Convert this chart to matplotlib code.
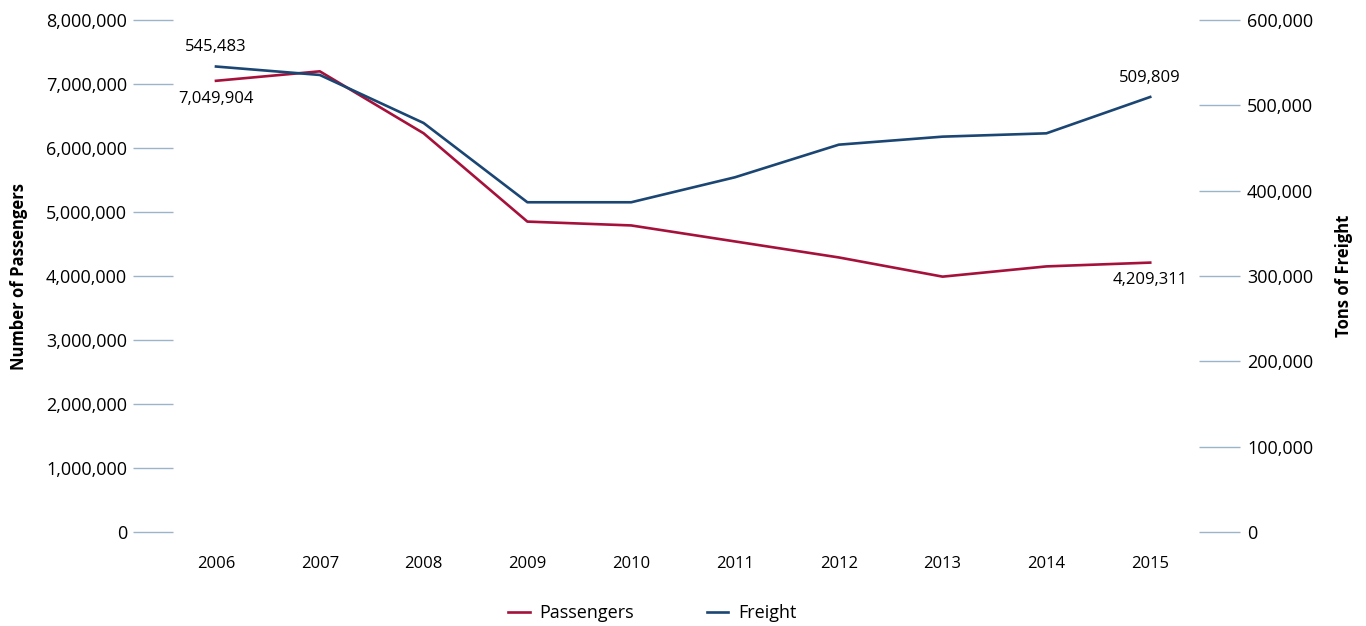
import matplotlib.pyplot as plt
from matplotlib.ticker import FuncFormatter

plt.rcParams['font.family'] = ['Open Sans', 'DejaVu Sans']

# data
years = ['2006', '2007', '2008', '2009', '2010', '2011', '2012', '2013', '2014', '2015']
passengers = [7049904, 7198000, 6230000, 4850000, 4790000, 4540000, 4290000, 3990000, 4150000, 4209311]
freight = [545483, 535600, 479300, 386400, 386400, 415700, 453900, 463300, 467200, 509809]

left_ticks = [0, 1000000, 2000000, 3000000, 4000000, 5000000, 6000000, 7000000, 8000000]
right_ticks = [0, 100000, 200000, 300000, 400000, 500000, 600000]

red = '#a6113b'
navy = '#1b4673'
tickcol = '#9bb4c9'
fmt = FuncFormatter(lambda v, p: '{:,.0f}'.format(v))

fig = plt.figure(figsize=(13.66, 6.26), dpi=100)
ax = fig.add_axes([173 / 1366, 94 / 626, (1199 - 173) / 1366, (532 - 20) / 626])
ax2 = ax.twinx()

x = list(range(len(years)))
l1, = ax.plot(x, passengers, color=red, lw=1.9, label='Passengers')
l2, = ax2.plot(x, freight, color=navy, lw=1.9, label='Freight')

ax.set_xlim(-0.414, 9.47)
ax.set_ylim(0, 8000000)
ax2.set_ylim(0, 600000)
ax.set_xticks(x)
ax.set_xticklabels(years)
ax.set_yticks(left_ticks)
ax2.set_yticks(right_ticks)
ax.yaxis.set_major_formatter(fmt)
ax2.yaxis.set_major_formatter(fmt)

for a in (ax, ax2):
    for s in a.spines.values():
        s.set_visible(False)
ax.tick_params(axis='x', length=0, pad=17, labelsize=12)
ax.tick_params(axis='y', length=29, width=1, color=tickcol, pad=4, labelsize=13)
ax2.tick_params(axis='y', length=29.5, width=1, color=tickcol, pad=5, labelsize=13)

ax.set_ylabel('Number of Passengers', fontsize=12, fontweight='bold', labelpad=13)
ax2.set_ylabel('Tons of Freight', fontsize=12, fontweight='bold', labelpad=16)

# end-point value labels
ax2.annotate('{:,}'.format(freight[0]), (0, freight[0]), xytext=(0, 8),
             textcoords='offset points', ha='center', va='bottom', fontsize=12)
ax.annotate('{:,}'.format(passengers[0]), (0, passengers[0]), xytext=(0, -7),
            textcoords='offset points', ha='center', va='top', fontsize=12)
ax2.annotate('{:,}'.format(freight[-1]), (9, freight[-1]), xytext=(0, 8),
             textcoords='offset points', ha='center', va='bottom', fontsize=12)
ax.annotate('{:,}'.format(passengers[-1]), (9, passengers[-1]), xytext=(0, -7),
            textcoords='offset points', ha='center', va='top', fontsize=12)

fig.legend(handles=[l1, l2], loc='center', bbox_to_anchor=(0.4775, 0.021), ncol=2,
           frameon=False, fontsize=13, handlelength=1.2, handletextpad=0.55,
           columnspacing=4.0)

plt.savefig('out.png', dpi=100)
